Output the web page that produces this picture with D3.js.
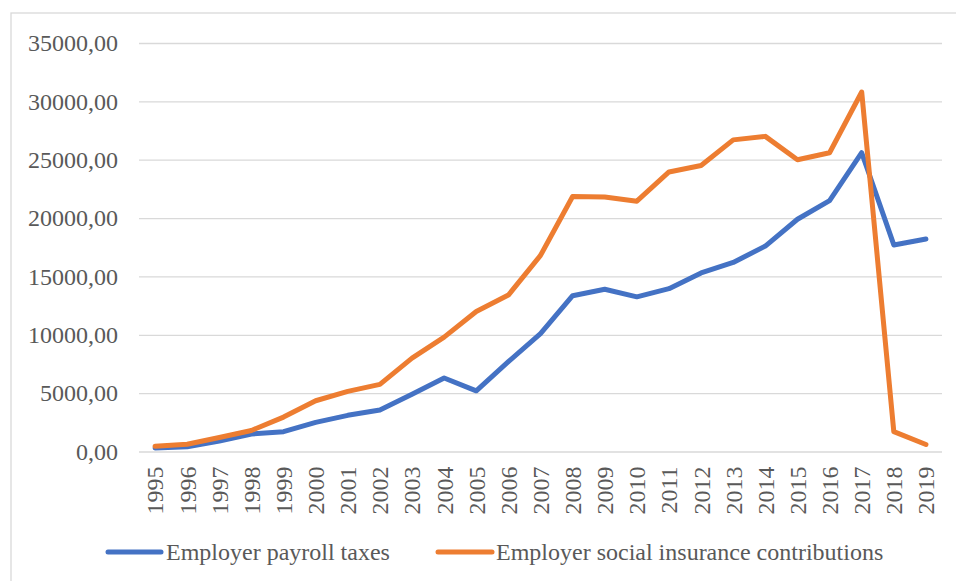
<!DOCTYPE html>
<html><head><meta charset="utf-8">
<script src="https://cdn.jsdelivr.net/npm/d3@7"></script>
<style>body{margin:0;background:#fff}svg{display:block}svg text{font-family:"Liberation Serif","Times New Roman",serif !important}</style>
</head><body>
<svg id="c" width="956" height="581"></svg>
<script>
const years = ["1995","1996","1997","1998","1999","2000","2001","2002","2003","2004","2005","2006","2007","2008","2009","2010","2011","2012","2013","2014","2015","2016","2017","2018","2019"];
const payrollTaxes = [300,400,900,1500,1700,2500,3100,3550,4900,6300,5200,7700,10100,13350,13900,13250,13950,15300,16200,17600,19900,21500,25600,17700,18200];
const socialInsurance = [450,620,1200,1800,2950,4350,5150,5750,8000,9800,12000,13400,16800,21850,21800,21450,23950,24500,26700,27000,25000,25600,30800,1700,600];
const yTicks = [0,5000,10000,15000,20000,25000,30000,35000];
const seriesNames = ["Employer payroll taxes","Employer social insurance contributions"];
const colors = ["#4472C4","#ED7D31"];

(function(){
const svg = d3.select("#c");
const font = '"Liberation Serif", serif';
const fs = 24;
const textColor = "#595959";
const pL = 139, pR = 942, pT = 43, pB = 451.5;

svg.append("rect").attr("x",11).attr("y",13).attr("width",960).attr("height",600)
  .attr("fill","#fff").attr("stroke","#d9d9d9").attr("stroke-width",1.3);

const x = d3.scaleBand().domain(years).range([pL,pR]);
const y = d3.scaleLinear().domain([0,35000]).range([pB,pT]);

const gy = svg.append("g").attr("transform",`translate(${pL},0)`)
  .call(d3.axisLeft(y).tickValues(yTicks).tickSize(-(pR-pL)).tickPadding(21)
    .tickFormat(d => d3.format(".2f")(d).replace(".",",")));
gy.attr("font-family",font).attr("font-size",fs);
gy.select(".domain").remove();
gy.selectAll(".tick line").attr("stroke","#d9d9d9").attr("stroke-width",1.3);
gy.selectAll(".tick text").attr("fill",textColor);

const gx = svg.append("g").attr("transform",`translate(0,${pB})`)
  .call(d3.axisBottom(x).tickSize(0));
gx.attr("font-family",font).attr("font-size",fs);
gx.select(".domain").remove();
gx.selectAll(".tick text").attr("fill",textColor)
  .attr("transform","rotate(-90)").attr("text-anchor","end").attr("x",-15).attr("y",0).attr("dy","0.35em");

const line = d3.line().x((d,i)=>x(years[i])+x.bandwidth()/2).y(d=>y(d));
[payrollTaxes, socialInsurance].forEach((s,k)=>{
  svg.append("path").datum(s).attr("d",line).attr("fill","none")
    .attr("stroke",colors[k]).attr("stroke-width",5).attr("stroke-linejoin","round").attr("stroke-linecap","round");
});

const legendItems = [{x1:108,x2:161,tx:166},{x1:438,x2:492,tx:496}];
legendItems.forEach((l,k)=>{
  svg.append("line").attr("x1",l.x1).attr("x2",l.x2).attr("y1",552).attr("y2",552)
    .attr("stroke",colors[k]).attr("stroke-width",5).attr("stroke-linecap","round");
  svg.append("text").attr("x",l.tx).attr("y",560).text(seriesNames[k])
    .attr("fill",textColor).attr("font-family",font).attr("font-size",fs);
});
})();
</script>
</body></html>
